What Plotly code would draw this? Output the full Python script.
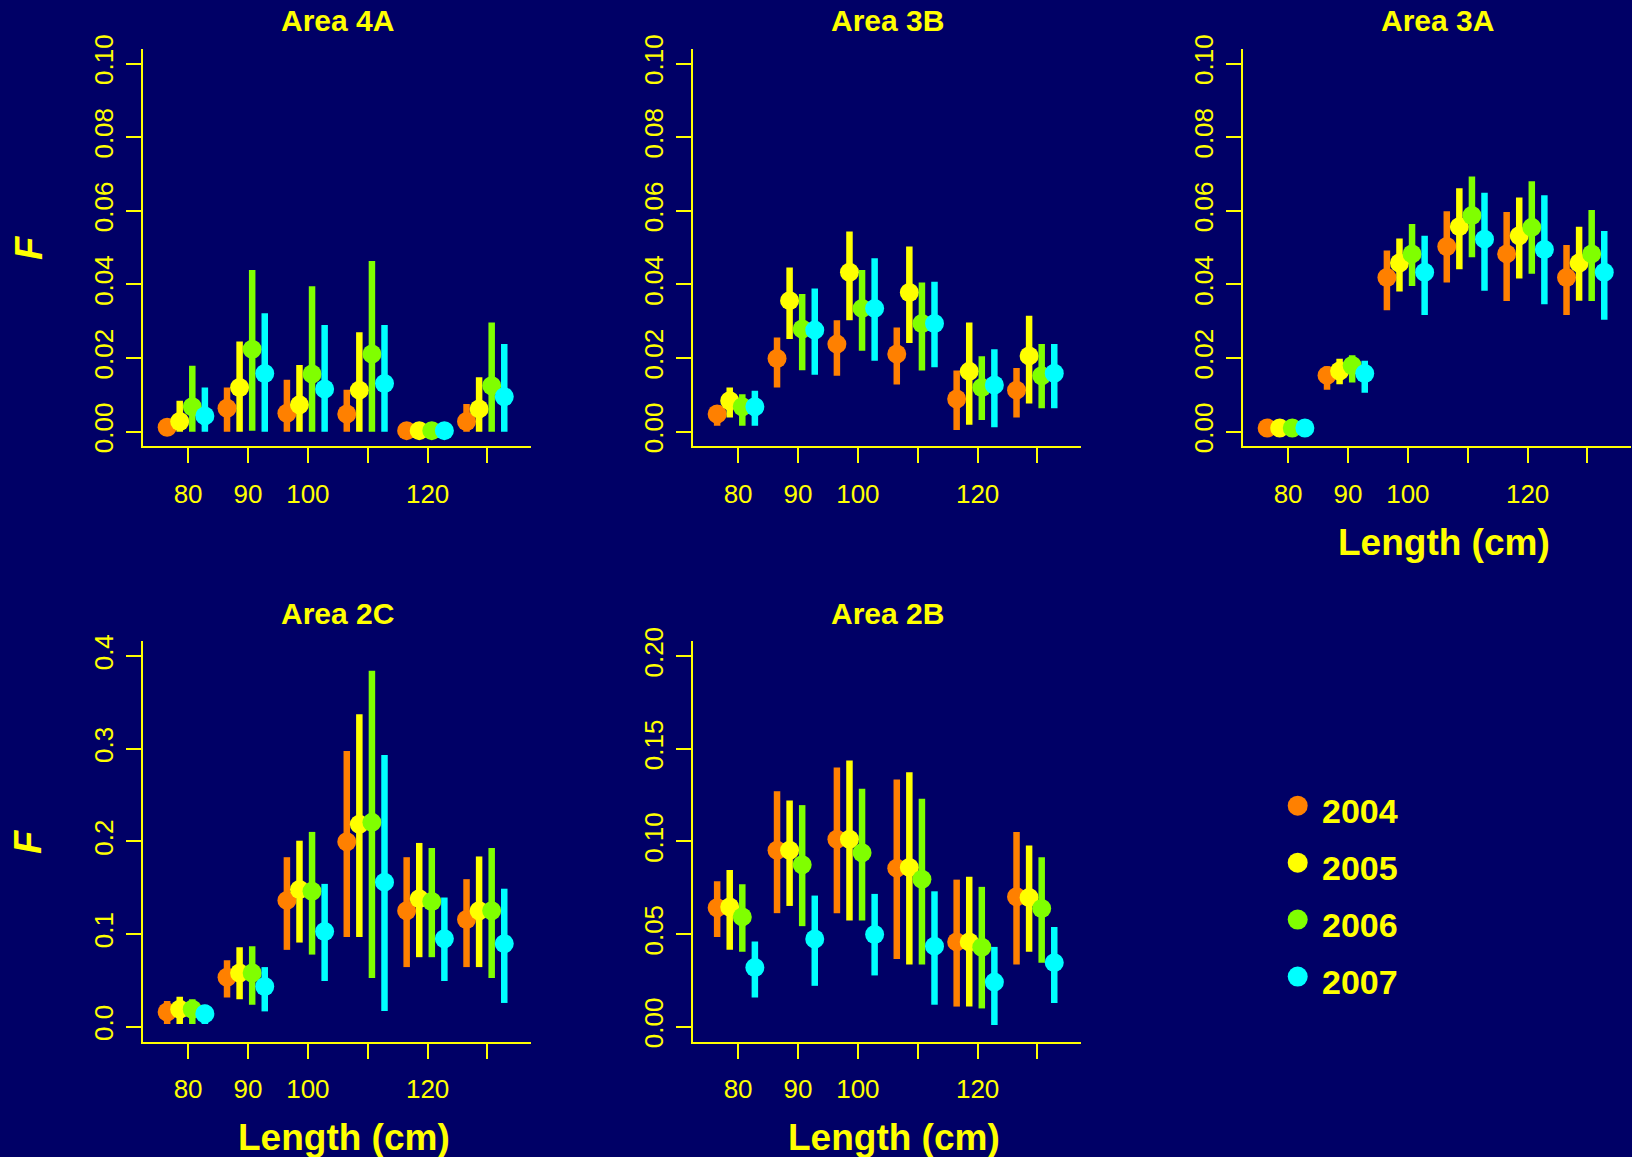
import plotly.graph_objects as go

W, H = 1632, 1157

years = ["2004", "2005", "2006", "2007"]
colors = ["#FF8000", "#FFFF00", "#80FF00", "#00FFFF"]
length_bins = [80, 90, 100, 110, 120, 130]
year_offsets = [-3.5, -1.4, 0.7, 2.8]
x_tick_vals = [80, 90, 100, 110, 120, 130]
x_tick_text = ["80", "90", "100", "", "120", ""]

# ---- Area 4A ----
est_4A = [[0.0012, 0.0064, 0.0050, 0.0048, 0.0003, 0.0028],
          [0.0028, 0.0120, 0.0073, 0.0113, 0.0003, 0.0062],
          [0.0068, 0.0224, 0.0157, 0.0211, 0.0003, 0.0125],
          [0.0043, 0.0158, 0.0116, 0.0131, 0.0003, 0.0095]]
lo_4A = [[0.0003, 0.0, 0.0, 0.0, 0.0, 0.0],
         [0.0, 0.0, 0.0, 0.0, 0.0, 0.0],
         [0.0, 0.0003, 0.0, 0.0, 0.0, 0.0],
         [0.0, 0.0, 0.0, 0.0, 0.0, 0.0]]
hi_4A = [[0.0020, 0.0120, 0.0141, 0.0114, 0.0005, 0.0075],
         [0.0084, 0.0245, 0.0181, 0.0270, 0.0005, 0.0148],
         [0.0179, 0.0439, 0.0395, 0.0464, 0.0005, 0.0297],
         [0.0120, 0.0322, 0.0290, 0.0290, 0.0005, 0.0238]]

# ---- Area 3B ----
est_3B = [[0.0048, 0.0199, 0.0238, 0.0211, 0.0089, 0.0113],
          [0.0084, 0.0356, 0.0433, 0.0378, 0.0164, 0.0206],
          [0.0068, 0.0279, 0.0335, 0.0294, 0.0120, 0.0152],
          [0.0068, 0.0276, 0.0335, 0.0294, 0.0127, 0.0159]]
lo_3B = [[0.0016, 0.0120, 0.0152, 0.0128, 0.0005, 0.0039],
         [0.0039, 0.0252, 0.0303, 0.0241, 0.0019, 0.0077],
         [0.0016, 0.0167, 0.0220, 0.0166, 0.0032, 0.0064],
         [0.0016, 0.0155, 0.0193, 0.0175, 0.0012, 0.0064]]
hi_3B = [[0.0071, 0.0256, 0.0303, 0.0283, 0.0166, 0.0173],
         [0.0120, 0.0446, 0.0544, 0.0503, 0.0297, 0.0315],
         [0.0102, 0.0374, 0.0439, 0.0405, 0.0205, 0.0238],
         [0.0111, 0.0389, 0.0471, 0.0407, 0.0224, 0.0238]]

# ---- Area 3A ----
est_3A = [[0.0010, 0.0153, 0.0419, 0.0503, 0.0483, 0.0419],
          [0.0010, 0.0165, 0.0458, 0.0557, 0.0532, 0.0458],
          [0.0010, 0.0180, 0.0483, 0.0587, 0.0555, 0.0483],
          [0.0010, 0.0158, 0.0433, 0.0523, 0.0495, 0.0433]]
lo_3A = [[0.0007, 0.0114, 0.0330, 0.0405, 0.0355, 0.0317],
         [0.0007, 0.0129, 0.0381, 0.0441, 0.0416, 0.0356],
         [0.0007, 0.0134, 0.0396, 0.0474, 0.0429, 0.0355],
         [0.0007, 0.0106, 0.0317, 0.0383, 0.0346, 0.0304]]
hi_3A = [[0.0013, 0.0178, 0.0492, 0.0599, 0.0597, 0.0507],
         [0.0013, 0.0198, 0.0525, 0.0661, 0.0636, 0.0557],
         [0.0013, 0.0208, 0.0564, 0.0693, 0.0680, 0.0602],
         [0.0013, 0.0193, 0.0532, 0.0649, 0.0642, 0.0545]]

# ---- Area 2C ----
est_2C = [[0.0160, 0.0534, 0.1364, 0.1996, 0.1253, 0.1158],
          [0.0190, 0.0581, 0.1482, 0.2186, 0.1383, 0.1253],
          [0.0190, 0.0581, 0.1462, 0.2206, 0.1352, 0.1253],
          [0.0140, 0.0435, 0.1028, 0.1561, 0.0949, 0.0897]]
lo_2C = [[0.0030, 0.0316, 0.0830, 0.0968, 0.0644, 0.0644],
         [0.0030, 0.0296, 0.0909, 0.0968, 0.0751, 0.0644],
         [0.0030, 0.0237, 0.0779, 0.0526, 0.0751, 0.0526],
         [0.0030, 0.0166, 0.0494, 0.0170, 0.0494, 0.0257]]
hi_2C = [[0.0277, 0.0719, 0.1830, 0.2976, 0.1830, 0.1593],
         [0.0324, 0.0858, 0.2008, 0.3372, 0.1984, 0.1838],
         [0.0296, 0.0870, 0.2103, 0.3842, 0.1929, 0.1929],
         [0.0237, 0.0644, 0.1542, 0.2933, 0.1395, 0.1490]]

# ---- Area 2B ----
est_2B = [[0.0642, 0.0953, 0.1012, 0.0856, 0.0458, 0.0702],
          [0.0646, 0.0953, 0.1012, 0.0860, 0.0458, 0.0698],
          [0.0593, 0.0874, 0.0939, 0.0796, 0.0429, 0.0638],
          [0.0320, 0.0474, 0.0498, 0.0435, 0.0241, 0.0346]]
lo_2B = [[0.0484, 0.0613, 0.0613, 0.0366, 0.0109, 0.0336],
         [0.0415, 0.0652, 0.0573, 0.0336, 0.0109, 0.0405],
         [0.0405, 0.0543, 0.0573, 0.0336, 0.0099, 0.0346],
         [0.0158, 0.0221, 0.0277, 0.0119, 0.0010, 0.0128]]
hi_2B = [[0.0785, 0.1271, 0.1399, 0.1334, 0.0794, 0.1051],
         [0.0846, 0.1221, 0.1437, 0.1374, 0.0810, 0.0978],
         [0.0769, 0.1196, 0.1285, 0.1231, 0.0755, 0.0915],
         [0.0460, 0.0708, 0.0717, 0.0731, 0.0431, 0.0538]]

y_ticks_small = [0.0, 0.02, 0.04, 0.06, 0.08, 0.10]
y_text_small = ["0.00", "0.02", "0.04", "0.06", "0.08", "0.10"]
y_ticks_2C = [0.0, 0.1, 0.2, 0.3, 0.4]
y_text_2C = ["0.0", "0.1", "0.2", "0.3", "0.4"]
y_ticks_2B = [0.0, 0.05, 0.10, 0.15, 0.20]
y_text_2B = ["0.00", "0.05", "0.10", "0.15", "0.20"]

BG = "#000066"
FG = "#FFFF00"
FONT = "Liberation Sans"

# target panel positions in picture pixels
col_off = [0, 550, 1100]
X_L, X_R = 143.2, 531.2
ROW1 = (48.6, 446.0)
ROW2 = (640.7, 1040.7)

panels = [
    ("Area 4A", est_4A, lo_4A, hi_4A, 0, ROW1, [-0.004, 0.104], y_ticks_small, y_text_small, False),
    ("Area 3B", est_3B, lo_3B, hi_3B, 1, ROW1, [-0.004, 0.104], y_ticks_small, y_text_small, False),
    ("Area 3A", est_3A, lo_3A, hi_3A, 2, ROW1, [-0.004, 0.104], y_ticks_small, y_text_small, True),
    ("Area 2C", est_2C, lo_2C, hi_2C, 0, ROW2, [-0.016, 0.416], y_ticks_2C, y_text_2C, True),
    ("Area 2B", est_2B, lo_2B, hi_2B, 1, ROW2, [-0.008, 0.208], y_ticks_2B, y_text_2B, True),
]

# empirical vertical correction observed between requested and photographed positions
Y_OFF, Y_SCALE = 13.85, 0.982


def fx(p):
    return p / W


def fy(p):
    r = (p - Y_OFF) / Y_SCALE
    return 1 - r / H


fig = go.Figure()
annotations = []
layout_axes = {}

for i, (title, est, lo, hi, col, row, yr, yt, ytt, show_xlab) in enumerate(panels):
    n = i + 1
    xa = "x" if n == 1 else f"x{n}"
    ya = "y" if n == 1 else f"y{n}"
    xl = X_L + col_off[col]
    xr = X_R + col_off[col]
    for k, yname in enumerate(years):
        xs = [b + year_offsets[k] for b in length_bins]
        fig.add_trace(go.Scatter(
            x=xs, y=est[k], mode="markers",
            marker=dict(color=colors[k], size=19, line=dict(width=0)),
            error_y=dict(type="data", symmetric=False,
                         array=[h - v for h, v in zip(hi[k], est[k])],
                         arrayminus=[v - l for v, l in zip(est[k], lo[k])],
                         thickness=6.5, width=0, color=colors[k]),
            xaxis=xa, yaxis=ya, showlegend=False, cliponaxis=False,
        ))
    axis_common = dict(showline=True, linecolor=FG, linewidth=2, ticks="outside",
                       tickcolor=FG, tickwidth=2, ticklen=15, showgrid=False,
                       zeroline=False, tickfont=dict(family=FONT, size=26, color=FG))
    layout_axes["xaxis" if n == 1 else f"xaxis{n}"] = dict(
        domain=[fx(xl), fx(xr)], range=[72.5, 137.3], anchor=ya,
        tickvals=x_tick_vals, ticktext=x_tick_text, ticklabelstandoff=8, **axis_common)
    layout_axes["yaxis" if n == 1 else f"yaxis{n}"] = dict(
        domain=[fy(row[1]), fy(row[0])], range=yr, anchor=xa,
        tickvals=yt, ticktext=ytt, tickangle=-90, ticklabelstandoff=3, **axis_common)
    cx = (xl + xr) / 2
    annotations.append(dict(text=f"<b>{title}</b>", x=fx(cx), y=fy(row[0] - 28),
                            xref="paper", yref="paper", showarrow=False,
                            xanchor="center", yanchor="middle",
                            font=dict(family=FONT, size=30, color=FG)))
    if show_xlab:
        annotations.append(dict(text="<b>Length (cm)</b>", x=fx(cx + 7), y=fy(row[1] + 96),
                                xref="paper", yref="paper", showarrow=False,
                                xanchor="center", yanchor="middle",
                                font=dict(family=FONT, size=37, color=FG)))
    if col == 0:
        annotations.append(dict(text="<b><i>F</i></b>", x=fx(28.5), y=fy((row[0] + row[1]) / 2),
                                xref="paper", yref="paper", showarrow=False, textangle=-90,
                                xanchor="center", yanchor="middle",
                                font=dict(family=FONT, size=38, color=FG)))

# legend panel drawn as its own small scatter
legend_y = list(range(len(years)))
fig.add_trace(go.Scatter(
    x=[0] * len(years), y=legend_y, mode="markers",
    marker=dict(color=colors, size=20, line=dict(width=0)),
    xaxis="x6", yaxis="y6", showlegend=False, cliponaxis=False,
))
for k, yname in enumerate(years):
    annotations.append(dict(text=f"<b>{yname}</b>", x=0, y=k, xref="x6", yref="y6",
                            showarrow=False, xanchor="left", yanchor="middle",
                            xshift=22, yshift=-5,
                            font=dict(family=FONT, size=34, color=FG)))
layout_axes["xaxis6"] = dict(domain=[fx(1277.7), fx(1317.7)], range=[-1, 1], visible=False,
                             anchor="y6")
layout_axes["yaxis6"] = dict(domain=[fy(1004.2), fy(776.5)], range=[3.5, -0.5], visible=False,
                             anchor="x6")

fig.update_layout(
    width=W, height=H, autosize=False, margin=dict(l=0, r=0, t=0, b=0, pad=0),
    paper_bgcolor=BG, plot_bgcolor=BG,
    font=dict(family=FONT, color=FG),
    annotations=annotations,
    **layout_axes,
)

fig.write_html(
    "out.html",
    config={"responsive": False, "displayModeBar": False},
    post_script=("document.body.style.margin='0';document.body.style.padding='0';"
                 "document.body.style.overflow='hidden';"
                 "document.body.style.background='" + BG + "';"),
)
